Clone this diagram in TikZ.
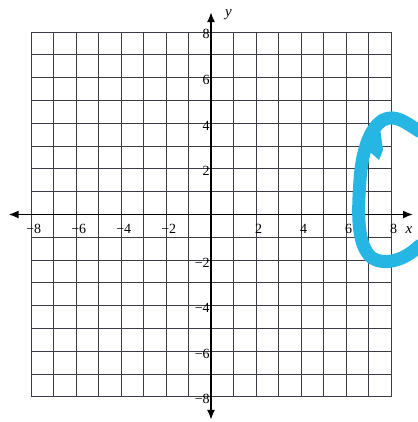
\documentclass[tikz,border=0pt]{standalone}
\usepackage{fontspec}
\setmainfont{Liberation Serif}
\usetikzlibrary{arrows.meta}
\definecolor{gridc}{RGB}{60,60,70}
\definecolor{hand}{RGB}{38,182,228}
\begin{document}
\begin{tikzpicture}[x=1pt,y=-1pt,
  gridline/.style={draw=gridc,line width=0.9pt},
  axis/.style={draw=black,line width=1.8pt,-{Latex[length=10pt,width=8pt]}},
  tick/.style={font=\fontsize{14}{14}\selectfont,inner sep=0pt},
  axlab/.style={font=\fontsize{15}{15}\selectfont\itshape,inner sep=0pt}]
\useasboundingbox (0,0) rectangle (417,422);
\fill[white] (0,0) rectangle (417,422);
\begin{scope}[shift={(211,214.5)},x=22.5pt,y=22.8pt]
  \foreach \i in {-8,...,8} {
    \draw[gridline] (\i,-8) -- (\i,8);
    \draw[gridline] (-8,\i) -- (8,\i);
  }
  \coordinate (xl) at (-9.0,0);
  \coordinate (xr) at (8.98,0);
  \coordinate (yt) at (0,8.88);
  \coordinate (yb) at (0,-9.01);
  \draw[axis] (0,0) -- (xl);
  \draw[axis] (0,0) -- (xr);
  \draw[axis] (0,0) -- (yt);
  \draw[axis] (0,0) -- (yb);
  \foreach \v/\t in {-8/−8,-6/−6,-4/−4,-2/−2,2/2,4/4,6/6,8/8} {
    \node[tick] (xt\v) at (\v+0.12,-0.63) {\t};
  }
  \foreach \v/\t in {8/8,6/6,4/4,2/2,-2/−2,-4/−4,-6/−6,-8/−8} {
    \node[tick,anchor=east] (yt\v) at (-0.05,\v-0.1) {\t};
  }
  \node[axlab] (ylab) at (0.78,8.76) {y};
  \node[axlab] (xlab) at (8.8,-0.7) {x};
\end{scope}
\draw[hand,line width=13pt,line cap=round,line join=round]
  (419,131) .. controls (405,122) and (395,114) .. (383,120)
  .. controls (370,128) and (362,150) .. (360,180)
  .. controls (358,210) and (356,245) .. (372,258)
  .. controls (385,266) and (405,260) .. (419,246);
\fill[hand] (372,130) -- (380,128) -- (383,150) -- (379,160) -- (370,152) -- cycle;
\end{tikzpicture}
\end{document}
